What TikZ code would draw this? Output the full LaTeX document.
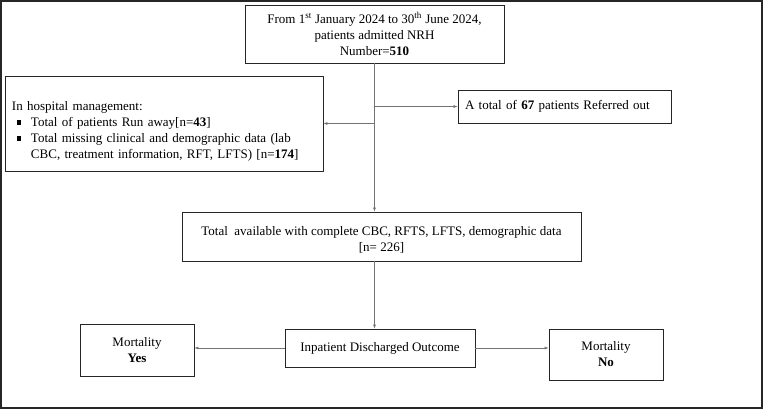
\documentclass[tikz,border=0pt]{standalone}
\usepackage{fontspec}
\setmainfont{Liberation Serif}
\usetikzlibrary{arrows.meta,positioning,calc}

\begin{document}
\begin{tikzpicture}[
  x=1pt, y=-1pt,
  box/.style={draw=black!85, line width=0.8pt, align=center, inner sep=2pt,
    font=\fontsize{13}{16}\selectfont},
  lbox/.style={box, align=left, inner xsep=7pt},
  arr/.style={-{Latex[length=4pt,width=3pt]}, draw=black!55, line width=0.6pt}
]
\useasboundingbox (0,0) rectangle (763,409);
\draw[line width=1.6pt, black!85] (1,1) rectangle (762,408);

\node[box, minimum width=259pt, minimum height=58pt] (admit) at (374.5,34)
  {From 1\textsuperscript{st} January 2024 to 30\textsuperscript{th} June 2024,\\
   patients admitted NRH\\ Number=\textbf{510}};
\node[lbox, text width=304pt, minimum height=95pt] (mgmt) at (164,123.5)
  {\rule{0pt}{24pt}In hospital management:\\
   \hspace*{5pt}\rule[1.5pt]{4.5pt}{4.5pt}\hspace{9.5pt}Total of patients Run away[n=\textbf{43}]\\
   \hspace*{5pt}\rule[1.5pt]{4.5pt}{4.5pt}\hspace{9.5pt}Total missing clinical and demographic data (lab\\
   \hspace*{19pt}CBC, treatment information, RFT, LFTS) [n=\textbf{174}]};
\node[lbox, text width=199pt, minimum height=33pt] (refer) at (564.5,106.5)
  {A total of \textbf{67} patients Referred out};
\node[box, minimum width=399pt, minimum height=49pt] (total) at (381.5,236.5)
  {\rule{0pt}{15pt}Total\ \ available with complete CBC, RFTS, LFTS, demographic data\\{}[n= 226]};
\node[box, minimum width=190pt, minimum height=38pt] (outcome) at (380,348)
  {Inpatient Discharged Outcome};
\node[box, minimum width=114pt, minimum height=52pt] (yes) at (137,350)
  {Mortality\\ \textbf{Yes}};
\node[box, minimum width=114pt, minimum height=51pt] (no) at (606,354.5)
  {Mortality\\ \textbf{No}};

% trunk and side branches
\draw[arr] (admit.south) -- (admit.south |- total.north);
\draw[arr] (admit.south |- mgmt.east) -- (mgmt.east);
\draw[arr] (admit.south |- refer.west) -- (refer.west);
\draw[arr] (total.south -| admit.south) -- (outcome.north -| admit.south);
\draw[arr] (outcome.west) -- (outcome.west -| yes.east);
\draw[arr] (outcome.east) -- (outcome.east -| no.west);
\end{tikzpicture}
\end{document}
